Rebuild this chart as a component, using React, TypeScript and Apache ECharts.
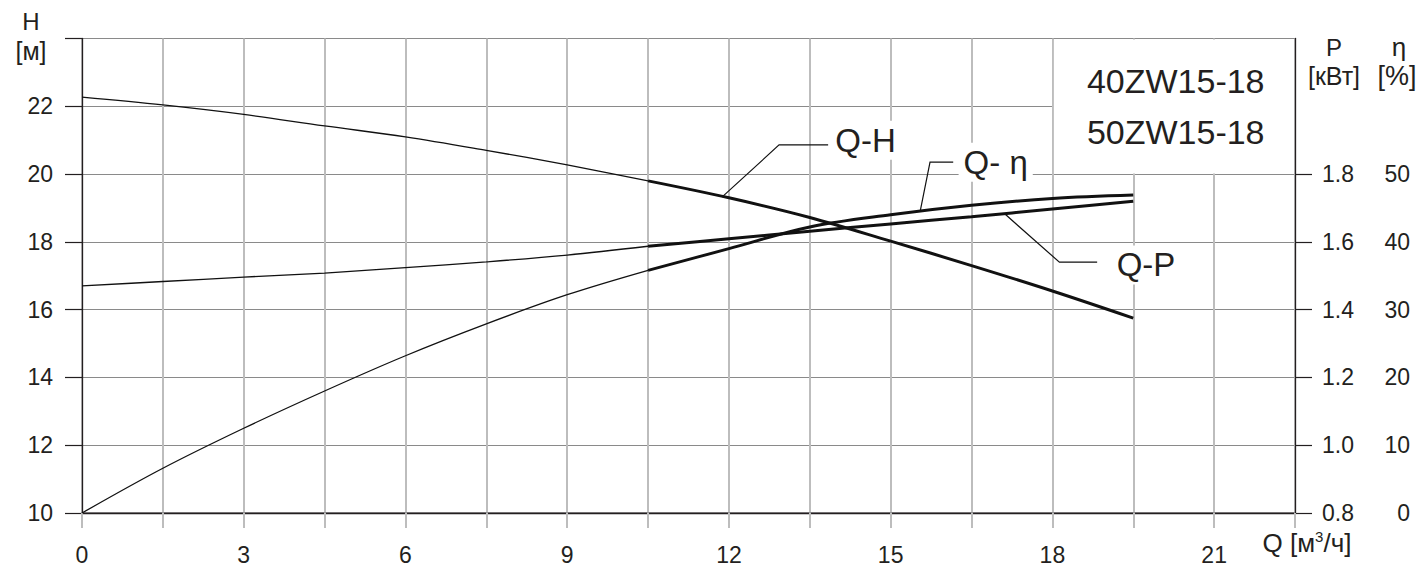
import React, { useEffect, useRef } from "react";
import * as echarts from "echarts";

// ---- data ----
const flowQ = [0, 1.5, 3, 4.5, 6, 7.5, 9, 10.5, 12, 13.5, 15, 16.5, 18, 19.5];
const headH = [22.27, 22.04, 21.76, 21.42, 21.1, 20.7, 20.27, 19.8, 19.3, 18.72, 18.02, 17.3, 16.55, 15.75];
const powerP = [1.47, 1.483, 1.496, 1.508, 1.524, 1.541, 1.561, 1.587, 1.609, 1.631, 1.653, 1.674, 1.697, 1.72];
const effEta = [0, 6.6, 12.5, 18.0, 23.2, 27.9, 32.2, 35.8, 39.0, 42.2, 44.0, 45.4, 46.4, 46.9];
const thickFromIndex = 7; // curves are drawn bold from Q = 10.5 on

const xTickLabels = [0, 3, 6, 9, 12, 15, 18, 21];
const hTickLabels = [10, 12, 14, 16, 18, 20, 22];
const pTickLabels = [0.8, 1.0, 1.2, 1.4, 1.6, 1.8];
const etaTickLabels = [0, 10, 20, 30, 40, 50];
const modelNames = ["40ZW15-18", "50ZW15-18"];
const curveNames = ["Q-H", "Q- η", "Q-P"];

const FONT = "Liberation Sans, Arial, sans-serif";
const INK = "#231f20";

function seg(vals: number[], from: number, to: number) {
  const out: number[][] = [];
  for (let i = from; i <= to; i++) out.push([flowQ[i], vals[i]]);
  return out;
}

export default function App() {
  const ref = useRef<HTMLDivElement>(null);
  useEffect(() => {
    if (!ref.current) return;
    const chart = echarts.init(ref.current, undefined, { renderer: "svg" });
    const last = flowQ.length - 1;
    const mkLine = (name: string, vals: number[], yAxisIndex: number) => [
      {
        type: "line", name, yAxisIndex, data: seg(vals, 0, thickFromIndex),
        smooth: 0.35, symbol: "none", lineStyle: { color: "#111", width: 1.3 }, z: 3,
      },
      {
        type: "line", name, yAxisIndex, data: seg(vals, thickFromIndex, last),
        smooth: 0.35, symbol: "none", lineStyle: { color: "#111", width: 3 }, z: 3,
      },
    ];
    chart.setOption({
      animation: false,
      backgroundColor: "#fff",
      textStyle: { fontFamily: FONT, color: INK },
      grid: {
        left: 82, right: 129, top: 38.5, bottom: 57, show: true,
        borderColor: INK, borderWidth: 1.2, backgroundColor: "transparent",
      },
      xAxis: {
        type: "value", min: 0, max: 22.5, interval: 1.5,
        axisLine: { show: true, lineStyle: { color: INK, width: 1.3 } },
        axisTick: { show: true, length: 15, lineStyle: { color: "#bdbdbd", width: 2 } },
        axisLabel: {
          fontSize: 23, color: INK, fontFamily: FONT, margin: 30,
          formatter: (v: number) => (xTickLabels.includes(v) ? String(v) : ""),
        },
        splitLine: { show: true, lineStyle: { color: "#bdbdbd", width: 2 } },
      },
      yAxis: [
        {
          type: "value", min: 10, max: 24, interval: 2, position: "left",
          axisLine: { show: true, lineStyle: { color: INK, width: 1.3 } },
          axisTick: { show: true, length: 17, lineStyle: { color: INK, width: 1.2 } },
          axisLabel: {
            fontSize: 23, color: INK, fontFamily: FONT, margin: 29,
            formatter: (v: number) => (hTickLabels.includes(v) ? String(v) : ""),
          },
          splitLine: { show: true, lineStyle: { color: "#8a8a8a", width: 1.2 } },
        },
        {
          type: "value", min: 0.8, max: 2.2, interval: 0.2, position: "right",
          axisLine: { show: true, lineStyle: { color: INK, width: 1.3 } },
          axisTick: { show: true, length: 17, customValues: pTickLabels, lineStyle: { color: INK, width: 1.2 } },
          axisLabel: {
            fontSize: 23, color: INK, fontFamily: FONT, margin: 27, align: "left",
            customValues: pTickLabels,
            formatter: (v: number) => v.toFixed(1),
          },
          splitLine: { show: false },
        },
        {
          type: "value", min: 0, max: 70, interval: 10, position: "right",
          axisLine: { show: false }, axisTick: { show: false },
          axisLabel: {
            fontSize: 23, color: INK, fontFamily: FONT, margin: 115, align: "right",
            customValues: etaTickLabels,
            formatter: (v: number) => String(v),
          },
          splitLine: { show: false },
        },
      ],
      series: [
        ...mkLine("Q-H", headH, 0),
        ...mkLine("Q-P", powerP, 1),
        ...mkLine("Q-η", effEta, 2),
      ],
    });

    const px = (q: number, h: number) =>
      chart.convertToPixel({ xAxisIndex: 0, yAxisIndex: 0 }, [q, h]) as number[];

    const [bx0, by0] = px(18, 24);
    const [bx1, by1] = px(22.5, 20);
    const leader = (pts: number[][]) => ({
      type: "polyline", z: 4, silent: true,
      shape: { points: pts.map(([q, h]) => px(q, h)) },
      style: { stroke: "#111", lineWidth: 1.2, fill: "none" },
    });
    const label = (text: string, q: number, h: number) => {
      const [x, y] = px(q, h);
      return {
        type: "text", z: 5, x, y,
        style: {
          text, fontSize: 33, fontFamily: FONT, fill: INK,
          align: "left", verticalAlign: "middle",
          backgroundColor: "#fff", padding: [3, 5, 3, 5],
        },
      };
    };
    const legendCenterX = (bx0 + bx1) / 2 + 2;
    const titleText = (text: string, x: number, y: number, size: number) => ({
      type: "text", z: 5, x, y,
      style: { text, fontSize: size, fontFamily: FONT, fill: INK, align: "center", verticalAlign: "middle" },
    });

    chart.setOption({
      graphic: [
        {
          type: "rect", z: 1, silent: true,
          shape: { x: bx0 + 1.5, y: by0 + 1, width: bx1 - bx0 - 2.5, height: by1 - by0 - 1.6 },
          style: { fill: "#fff" },
        },
        {
          type: "text", z: 5, x: legendCenterX, y: px(0, 22.74)[1],
          style: { text: modelNames[0], fontSize: 34, fontFamily: FONT, fill: INK, align: "center", verticalAlign: "middle" },
        },
        {
          type: "text", z: 5, x: legendCenterX, y: px(0, 21.24)[1],
          style: { text: modelNames[1], fontSize: 34, fontFamily: FONT, fill: INK, align: "center", verticalAlign: "middle" },
        },
        leader([[11.87, 19.32], [12.93, 20.86], [13.84, 20.86]]),
        leader([[15.55, 18.92], [15.73, 20.35], [16.16, 20.35]]),
        leader([[17.12, 18.82], [18.13, 17.4], [18.83, 17.4]]),
        label(curveNames[0], 13.88, 21.0),
        label(curveNames[1], 16.26, 20.35),
        label(curveNames[2], 19.1, 17.32),
        titleText("H", 31, 21, 24),
        titleText("[м]", 31, 51, 25),
        titleText("P", 1334, 47, 24),
        titleText("[кВт]", 1334, 76, 25),
        titleText("η", 1399, 47, 26),
        titleText("[%]", 1397, 76, 27),
        {
          type: "text", z: 5, x: 1307, y: 543,
          style: {
            text: "{a|Q [м}{s|3}{a|/ч]}",
            fontFamily: FONT, fill: INK, align: "center", verticalAlign: "middle",
            rich: {
              a: { fontSize: 26, lineHeight: 28, fontFamily: FONT, fill: INK },
              s: { fontSize: 15, lineHeight: 15, fontFamily: FONT, fill: INK, verticalAlign: "top" },
            },
          },
        },
      ],
    });

    return () => chart.dispose();
  }, []);
  return (
    <div
      ref={ref}
      style={{ position: "fixed", left: 0, top: 0, width: 1424, height: 570, background: "#fff" }}
    />
  );
}
